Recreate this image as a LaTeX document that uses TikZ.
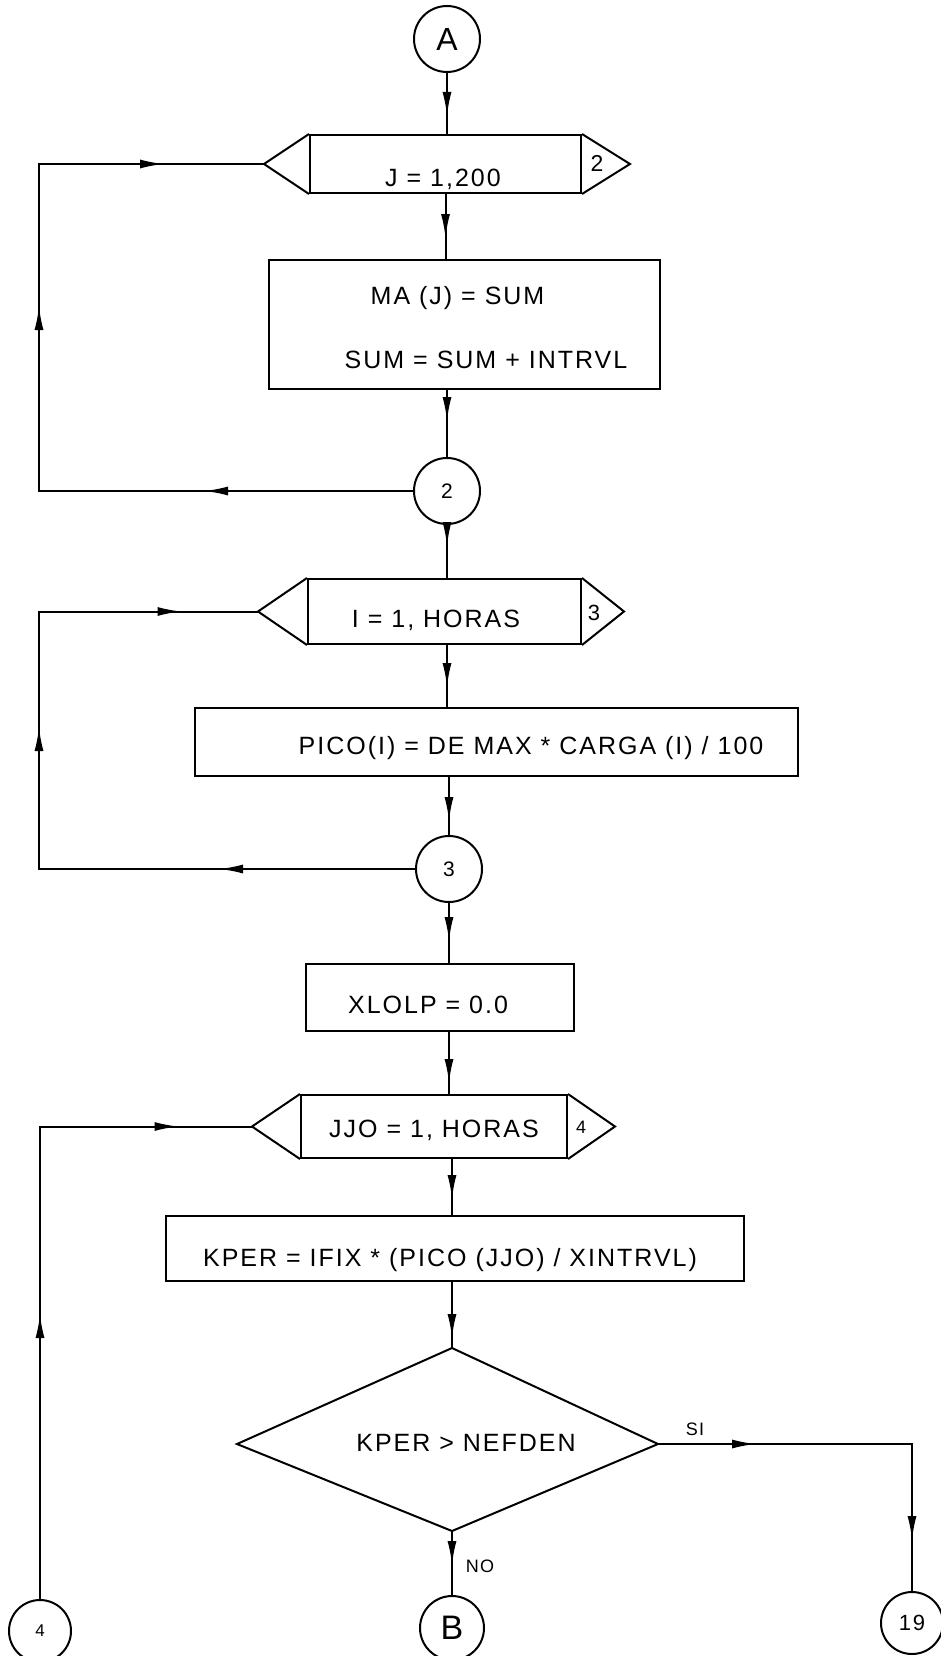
\documentclass[tikz,border=0pt]{standalone}
\usepackage{fontspec}
\setmainfont{Liberation Sans}[LetterSpace=8]
\usetikzlibrary{arrows.meta,decorations.markings}
\begin{document}
\begin{tikzpicture}[x=1pt,y=-1pt,line width=2pt,
  conn/.style={circle,draw,inner sep=0pt},
  boxn/.style={draw,rectangle,inner sep=0pt},
  txt/.style={inner sep=0pt,anchor=base,font=\fontsize{25}{30}\selectfont},
  tipat/.style={postaction={decorate,decoration={markings,mark=at position #1 with {\arrow{Latex[length=24pt,width=9pt]}}}}}
]
\useasboundingbox (0,0) rectangle (941,1656);
\coordinate (lx) at (39,0);

% connector A
\node[conn,minimum size=66pt,font=\fontsize{32}{36}\selectfont] (A) at (447,39) {A};

% loop 1
\node[boxn,minimum width=271pt,minimum height=58pt] (h1) at (445.5,164) {};
\coordinate (h1L) at (264,164); \coordinate (h1R) at (630,164);
\draw (h1.north west) -- (h1L) -- (h1.south west);
\draw (h1.north east) -- (h1R) -- (h1.south east);
\node[txt] (h1t) at (443,187) {J = 1,200};
\node[txt,font=\fontsize{23}{26}\selectfont] (h1n) at (597,172) {2};

\node[boxn,minimum width=391pt,minimum height=129pt] (b1) at (464.5,324.5) {};
\node[txt] (b1a) at (457.5,304) {MA (J) = SUM};
\node[txt] (b1b) at (486,368) {SUM = SUM + INTRVL};

\node[conn,minimum size=66pt,font=\fontsize{21}{24}\selectfont] (c2) at (447,491) {2};

% loop 2
\node[boxn,minimum width=273pt,minimum height=65pt] (h2) at (444.5,611.5) {};
\coordinate (h2L) at (258,611.5); \coordinate (h2R) at (624,611.5);
\draw (h2.north west) -- (h2L) -- (h2.south west);
\draw (h2.north east) -- (h2R) -- (h2.south east);
\node[txt] (h2t) at (436,627) {I = 1, HORAS};
\node[txt,font=\fontsize{22}{26}\selectfont] (h2n) at (594,620) {3};

\node[boxn,minimum width=603pt,minimum height=68pt] (b2) at (496.5,742) {};
\node[txt] (b2t) at (531,754) {PICO(I) = DE MAX * CARGA (I) / 100};

\node[conn,minimum size=66pt,font=\fontsize{21}{24}\selectfont] (c3) at (449,869) {3};

\node[boxn,minimum width=268pt,minimum height=67pt] (b3) at (440,997.5) {};
\node[txt] (b3t) at (428,1013) {XLOLP = 0.0};

% loop 3
\node[boxn,minimum width=266pt,minimum height=63pt] (h3) at (434,1126.5) {};
\coordinate (h3L) at (252,1126.5); \coordinate (h3R) at (615,1126.5);
\draw (h3.north west) -- (h3L) -- (h3.south west);
\draw (h3.north east) -- (h3R) -- (h3.south east);
\node[txt] (h3t) at (434,1137) {JJO = 1, HORAS};
\node[txt,font=\fontsize{18}{22}\selectfont] (h3n) at (581,1133) {4};

\node[boxn,minimum width=578pt,minimum height=65pt] (b4) at (455,1248.5) {};
\node[txt] (b4t) at (450,1266) {KPER = IFIX * (PICO (JJO) / XINTRVL)};

% decision
\coordinate (dT) at (452,1348); \coordinate (dB) at (452,1531);
\coordinate (dL) at (237,1444); \coordinate (dR) at (658,1444);
\draw (dT) -- (dR) -- (dB) -- (dL) -- cycle;
\node[txt] (dt) at (466,1451) {KPER > NEFDEN};

\node[conn,minimum size=64pt,font=\fontsize{34}{38}\selectfont] (B) at (452,1628) {B};
\node[conn,minimum size=62pt,font=\fontsize{22}{26}\selectfont] (c19) at (912,1623) {19};
\node[conn,minimum size=62pt,font=\fontsize{17}{20}\selectfont] (c4) at (40,1631) {4};

\node[txt,font=\fontsize{18}{22}\selectfont] (si) at (695,1435) {SI};
\node[txt,font=\fontsize{18}{22}\selectfont] (no) at (480,1572) {NO};

% main flow
\draw[tipat=43pt] (A) -- (A |- h1.north);
\draw[tipat=44pt] (h1.south) -- (h1.south |- b1.north);
\draw[tipat=31pt] (b1.south -| c2) -- (c2);
\draw[tipat=21pt] (c2) -- (c2 |- h2.north);
\draw[tipat=42pt] (h2.south -| c2) -- (c2 |- b2.north);
\draw[tipat=44pt] (b2.south -| c3) -- (c3);
\draw[tipat=38pt] (c3) -- (c3 |- b3.north);
\draw[tipat=51pt] (b3.south -| c3) -- (c3 |- h3.north);
\draw[tipat=40pt] (h3.south -| dT) -- (dT |- b4.north);
\draw[tipat=56pt] (b4.south -| dT) -- (dT);
\draw[tipat=34pt] (dB) -- (B);
\draw[tipat=98pt,tipat=350pt] (dR) -- (dR -| c19) -- (c19);

% loops
\draw[tipat=209pt,tipat=559pt,tipat=826pt] (c2) -- (c2 -| lx) |- (h1L);
\draw[tipat=196pt,tipat=518pt,tipat=776pt] (c3) -- (c3 -| lx) |- (h2L);
\draw[tipat=285pt,tipat=611pt] (c4) -- (c4 |- h3L) -- (h3L);
\end{tikzpicture}
\end{document}
